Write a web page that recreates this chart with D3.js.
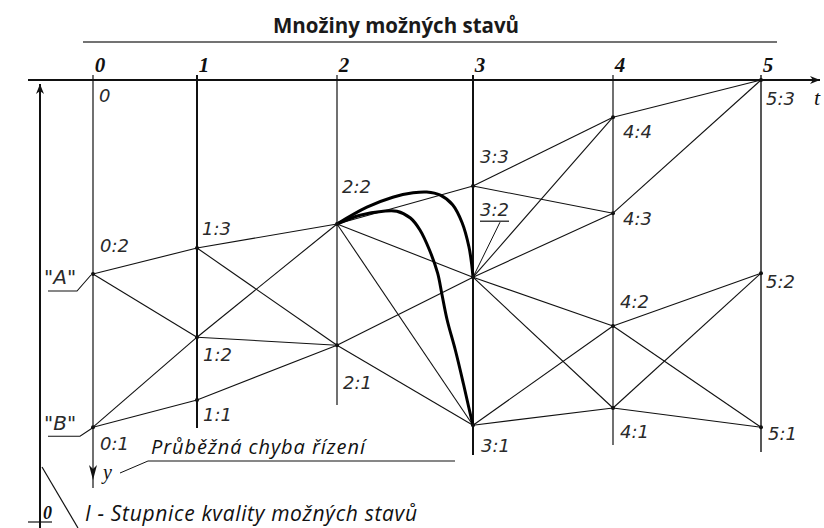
<!DOCTYPE html>
<html><head><meta charset="utf-8">
<script src="https://cdn.jsdelivr.net/npm/d3@7"></script>
<style>body{margin:0;background:#fff}svg{display:block}</style>
</head><body><svg id="c" width="824" height="528"></svg>
<script>
// ---------------- data ----------------
const titleText = "Množiny možných stavů";
const stages = [0, 1, 2, 3, 4, 5];
const stageLabels = ["0", "1", "2", "3", "4", "5"];
const nodeIds      = ["0:2","0:1","1:3","1:2","1:1","2:2","2:1","3:3","3:2","3:1","4:4","4:3","4:2","4:1","5:3","5:2","5:1"];
const nodeStage    = [0, 0, 1, 1, 1, 2, 2, 3, 3, 3, 4, 4, 4, 4, 5, 5, 5];
const nodeQuality  = [4.85, 8.68, 4.2, 6.43, 8.0, 3.6, 6.63, 2.65, 4.93, 8.63, 0.93, 3.33, 6.15, 8.2, 0, 4.83, 8.68];
const edgeFrom = ["0:2","0:2","0:1","0:1","1:3","1:3","1:2","1:2","1:1","2:2","2:2","2:2","2:1","2:1","3:3","3:3","3:2","3:2","3:2","3:2","3:1","3:1","4:4","4:3","4:2","4:2","4:1","4:1"];
const edgeTo   = ["1:3","1:2","1:2","1:1","2:2","2:1","2:2","2:1","2:1","3:3","3:2","3:1","3:2","3:1","4:4","4:3","4:4","4:3","4:2","4:1","4:2","4:1","5:3","5:3","5:2","5:1","5:2","5:1"];
// optimal control trajectories (stage, quality)
const pathOuter = [[2,3.6],[2.22,3.18],[2.41,2.93],[2.56,2.82],[2.66,2.8],[2.76,2.88],[2.85,3.12],[2.92,3.57],[2.97,4.17],[2.99,4.6],[3,4.93]];
const pathInner = [[2,3.6],[2.17,3.38],[2.34,3.28],[2.44,3.28],[2.54,3.45],[2.61,3.75],[2.68,4.25],[2.74,4.83],[2.77,5.33],[2.81,6.0],[2.87,6.75],[2.93,7.6],[2.97,8.2],[3,8.63]];
const originLabel = "0";
const labelA = "\"A\"", labelB = "\"B\"";
const axisT = "t", axisY = "y";
const errorText = "Průběžná chyba řízení";
const scaleText = "I - Stupnice kvality možných stavů";
const scaleZero = "0";

// ---------------- layout ----------------
const svg = d3.select("#c");
const x = d3.scaleLinear().domain(stages).range([93, 197, 337, 473, 613, 761]);
const y = d3.scaleLinear().domain([0, 10]).range([80, 480]);
const stageBottom = [488, 428, 405, 455, 445, 452];
const stageWidth = [1.2, 2, 1.2, 2, 1.2, 1.4];
const labelOff = {
  "0:2":[7,-22],"0:1":[7,23],"1:3":[5,-13],"1:2":[6,24],"1:1":[6,21],
  "2:2":[5,-31],"2:1":[6,44],"3:3":[7,-23],"3:2":[7,-61],"3:1":[8,27],
  "4:4":[10,21],"4:3":[10,12],"4:2":[7,-18],"4:1":[7,30],
  "5:3":[5,25],"5:2":[5,15],"5:1":[7,13]
};
const ink = "#111";
const pos = {};
nodeIds.forEach((id, i) => pos[id] = [x(nodeStage[i]), y(nodeQuality[i])]);

svg.append("rect").attr("width", 824).attr("height", 528).attr("fill", "#fff");

// title
svg.append("text").attr("x", 396).attr("y", 33).attr("text-anchor", "middle")
  .attr("font-family", "'Open Sans', sans-serif").attr("font-weight", "bold")
  .attr("font-size", 20.5).attr("fill", "#1a1a1a").text(titleText);
svg.append("line").attr("x1", 83).attr("x2", 777).attr("y1", 42).attr("y2", 42)
  .attr("stroke", "#444").attr("stroke-width", 1.5);

// arrow markers
const defs = svg.append("defs");
function marker(id, path) {
  defs.append("marker").attr("id", id).attr("viewBox", "0 0 10 10").attr("refX", 10).attr("refY", 5)
    .attr("markerWidth", 10).attr("markerHeight", 10).attr("markerUnits", "userSpaceOnUse")
    .attr("orient", "auto").append("path").attr("d", path).attr("fill", ink);
}
marker("arr", "M0,1 L10,5 L0,9 L3,5 Z");

// horizontal time axis
svg.append("line").attr("x1", 28).attr("x2", 820).attr("y1", y(0)).attr("y2", y(0))
  .attr("stroke", ink).attr("stroke-width", 2).attr("marker-end", "url(#arr)");
svg.append("text").attr("x", 814).attr("y", 105).attr("font-family", "'Liberation Serif', serif")
  .attr("font-style", "italic").attr("font-size", 22).attr("fill", ink).text(axisT);

// left quality axis
svg.append("line").attr("x1", 40).attr("x2", 40).attr("y1", 528).attr("y2", 84)
  .attr("stroke", ink).attr("stroke-width", 2).attr("marker-end", "url(#arr)");
svg.append("line").attr("x1", 28).attr("x2", 52).attr("y1", 522).attr("y2", 522)
  .attr("stroke", ink).attr("stroke-width", 1.2);
svg.append("text").attr("x", 43).attr("y", 519).attr("font-family", "'Liberation Serif', serif")
  .attr("font-style", "italic").attr("font-weight", "bold").attr("font-size", 18).attr("fill", ink).text(scaleZero);
svg.append("line").attr("x1", 42).attr("y1", 467).attr("x2", 78).attr("y2", 528)
  .attr("stroke", ink).attr("stroke-width", 1.2);

// stage vertical lines
stages.forEach((s, i) => {
  svg.append("line").attr("x1", x(s)).attr("x2", x(s)).attr("y1", 75).attr("y2", stageBottom[i])
    .attr("stroke", ink).attr("stroke-width", stageWidth[i]);
  svg.append("text").attr("x", x(s) + 7).attr("y", 72).attr("text-anchor", "middle")
    .attr("font-family", "'Liberation Serif', serif").attr("font-style", "italic").attr("font-weight", "bold")
    .attr("font-size", 21).attr("fill", ink).text(stageLabels[i]);
});
// arrow on stage 0 (y axis)
svg.append("path").attr("d", `M${x(0)-4},465 L${x(0)},480 L${x(0)+4},465 L${x(0)},469 Z`).attr("fill", ink);
svg.append("text").attr("x", 103).attr("y", 479).attr("font-family", "'Liberation Serif', serif")
  .attr("font-style", "italic").attr("font-size", 20).attr("fill", ink).text(axisY);

// edges
svg.append("g").selectAll("line").data(edgeFrom.map((f, i) => [f, edgeTo[i]])).join("line")
  .attr("x1", d => pos[d[0]][0]).attr("y1", d => pos[d[0]][1])
  .attr("x2", d => pos[d[1]][0]).attr("y2", d => pos[d[1]][1])
  .attr("stroke", ink).attr("stroke-width", 1.1);

// thick trajectories
const line = d3.line().x(d => x(d[0])).y(d => y(d[1])).curve(d3.curveCatmullRom.alpha(0.5));
[pathOuter, pathInner].forEach(p => svg.append("path").attr("d", line(p))
  .attr("fill", "none").attr("stroke", "#000").attr("stroke-width", 3));

// nodes
svg.append("g").selectAll("circle").data(nodeIds).join("circle")
  .attr("cx", d => pos[d][0]).attr("cy", d => pos[d][1]).attr("r", 2).attr("fill", ink);

// node labels
const lbl = svg.append("g").attr("font-family", "'DejaVu Sans', sans-serif").attr("font-style", "italic")
  .attr("font-size", 18).attr("fill", "#2a2a2a");
nodeIds.forEach(id => {
  lbl.append("text").attr("x", pos[id][0] + labelOff[id][0]).attr("y", pos[id][1] + labelOff[id][1]).text(id);
});
lbl.append("text").attr("x", x(0) + 6).attr("y", 102).text(originLabel);
// underline + leader for 3:2
const p32 = pos["3:2"];
svg.append("line").attr("x1", p32[0] + 7).attr("x2", p32[0] + 36).attr("y1", p32[1] - 56).attr("y2", p32[1] - 56)
  .attr("stroke", ink).attr("stroke-width", 1.2);
svg.append("line").attr("x1", p32[0] + 27).attr("y1", p32[1] - 55).attr("x2", p32[0]).attr("y2", p32[1])
  .attr("stroke", ink).attr("stroke-width", 1);

// A / B labels with leaders
const pA = pos["0:2"], pB = pos["0:1"];
const abLbl = svg.append("g").attr("font-family", "'DejaVu Sans', sans-serif").attr("font-style", "italic")
  .attr("font-size", 20).attr("fill", "#2a2a2a");
abLbl.append("text").attr("x", 44).attr("y", pA[1] + 10).text(labelA);
abLbl.append("text").attr("x", 44).attr("y", pB[1] + 3).text(labelB);
svg.append("polyline").attr("points", `48,${pA[1]+17} 77,${pA[1]+17} ${pA[0]-2},${pA[1]+1}`)
  .attr("fill", "none").attr("stroke", ink).attr("stroke-width", 1.1);
svg.append("polyline").attr("points", `48,${pB[1]+9} 80,${pB[1]+9} ${pB[0]-1},${pB[1]+1}`)
  .attr("fill", "none").attr("stroke", ink).attr("stroke-width", 1.1);

// bottom annotations
svg.append("text").attr("x", 151).attr("y", 454).attr("font-family", "'Open Sans', sans-serif")
  .attr("font-style", "italic").attr("font-size", 20).attr("fill", ink)
  .attr("textLength", 214).attr("lengthAdjust", "spacing").text(errorText);
svg.append("line").attr("x1", 148).attr("x2", 455).attr("y1", 461).attr("y2", 461)
  .attr("stroke", ink).attr("stroke-width", 1.2);
svg.append("line").attr("x1", 120).attr("y1", 473).attr("x2", 148).attr("y2", 461)
  .attr("stroke", ink).attr("stroke-width", 1);
svg.append("text").attr("x", 85).attr("y", 521).attr("font-family", "'Open Sans', sans-serif")
  .attr("font-style", "italic").attr("font-size", 21).attr("fill", ink)
  .attr("textLength", 332).attr("lengthAdjust", "spacing").text(scaleText);
</script></body></html>
